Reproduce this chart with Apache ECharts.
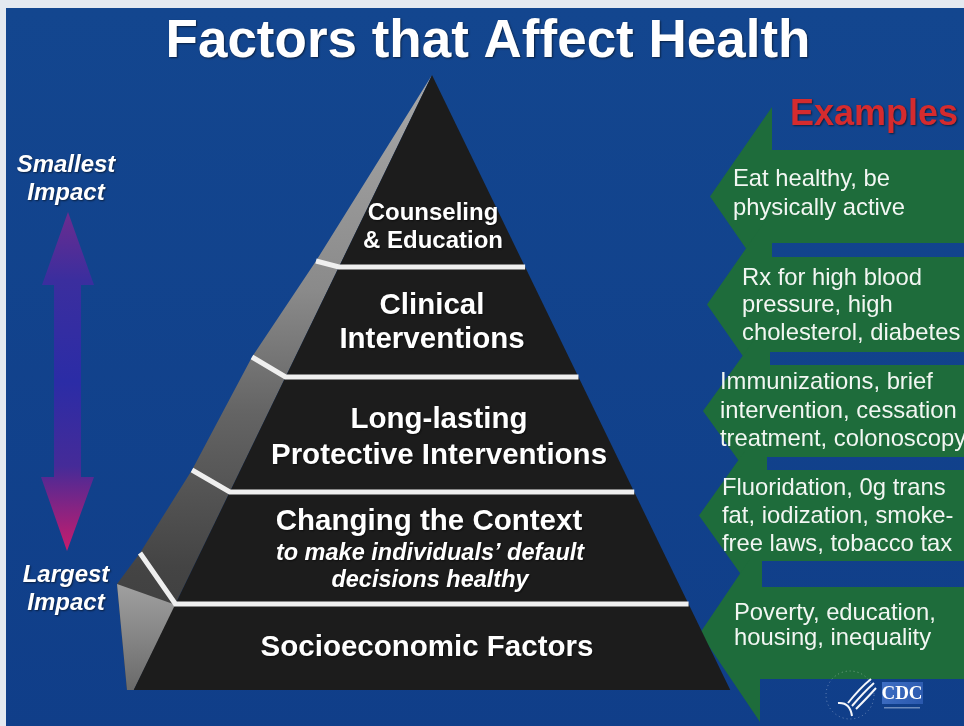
<!DOCTYPE html>
<html>
<head>
<meta charset="utf-8">
<script src="https://cdn.jsdelivr.net/npm/echarts@6/dist/echarts.min.js"></script>
<style>
  html, body { margin: 0; padding: 0; background: #e4e9f0; }
  #chart { width: 964px; height: 726px; }
</style>
</head>
<body>
<div id="chart"></div>
<script>
  // content
  const title = 'Factors that Affect Health'
  const tierNames = [
    'Counseling\n& Education',
    'Clinical\nInterventions',
    'Long-lasting\nProtective Interventions',
    'Changing the Context',
    'Socioeconomic Factors'
  ]
  const tierNotes = ['', '', '', 'to make individuals\u2019 default\ndecisions healthy', '']
  const examplesTitle = 'Examples'
  const examples = [
    'Eat healthy, be\nphysically active',
    'Rx for high blood\npressure, high\ncholesterol, diabetes',
    'Immunizations, brief\nintervention, cessation\ntreatment, colonoscopy',
    'Fluoridation, 0g trans\nfat, iodization, smoke-\nfree laws, tobacco tax',
    'Poverty, education,\nhousing, inequality'
  ]
  const impactLabels = ['Smallest\nImpact', 'Largest\nImpact']

  // layout
  const FONT = '"Liberation Sans", Arial, sans-serif'
  const apex = [432, 75]
  const baseY = 690
  const k = 0.485
  const sepY = [267, 377, 492, 604]
  const sidePts = [[316, 261], [252, 357], [192, 470], [140, 553]]
  const tierText = [
    { x: 433, y: 227, size: 24, lh: 28 },
    { x: 432, y: 323, size: 29.5, lh: 34 },
    { x: 439, y: 438, size: 29.5, lh: 36 },
    { x: 429, y: 522, size: 29.5, lh: 30 },
    { x: 427, y: 648, size: 29.5, lh: 30 }
  ]
  const bands = [
    { top: 150, bot: 243, tip: 710, head: 772, tx: 733, lh: 29, dy: -3 },
    { top: 257, bot: 352, tip: 707, head: 770, tx: 742, lh: 27.5, dy: 1 },
    { top: 365, bot: 457, tip: 703, head: 767, tx: 720, lh: 28.5, dy: 0 },
    { top: 470, bot: 561, tip: 699, head: 762, tx: 722, lh: 28, dy: 1 },
    { top: 587, bot: 679, tip: 700, head: 760, tx: 734, lh: 25.5, dy: -7 }
  ]

  const leftX = y => apex[0] - k * (y - apex[1])
  const rightX = y => apex[0] + k * (y - apex[1])
  const shadow = { textShadowColor: 'rgba(0,0,0,0.55)', textShadowBlur: 2, textShadowOffsetX: 1, textShadowOffsetY: 1 }

  const els = []

  // background
  els.push({
    type: 'rect', shape: { x: 6, y: 8, width: 970, height: 730 },
    style: { fill: new echarts.graphic.LinearGradient(0, 0, 0, 1, [
      { offset: 0, color: '#13468f' }, { offset: 1, color: '#103e89' }
    ]) }
  })

  els.push({
    type: 'text', x: 488, y: 42,
    style: Object.assign({ text: title, font: 'bold 53px ' + FONT, fill: '#ffffff', align: 'center', verticalAlign: 'middle' }, shadow)
  })

  // green example arrows
  bands.forEach(b => {
    const c = (b.top + b.bot) / 2
    const ext = 43
    els.push({
      type: 'polygon',
      shape: { points: [[b.tip, c], [b.head, b.bot + ext], [b.head, b.bot], [975, b.bot], [975, b.top], [b.head, b.top], [b.head, b.top - ext]] },
      style: { fill: '#1e6c3b' }
    })
  })
  bands.forEach((b, i) => {
    els.push({
      type: 'text', x: b.tx, y: (b.top + b.bot) / 2 + b.dy,
      style: { text: examples[i], font: '23.8px ' + FONT, fill: '#f2f6f2', align: 'left', verticalAlign: 'middle', lineHeight: b.lh }
    })
  })
  els.push({
    type: 'text', x: 790, y: 115,
    style: Object.assign({ text: examplesTitle, font: 'bold 36px ' + FONT, fill: '#d52b2e', align: 'left', verticalAlign: 'middle' }, shadow)
  })

  // double arrow on the left
  els.push({
    type: 'polygon',
    shape: { points: [[68, 212], [94, 285], [81, 285], [81, 477], [94, 477], [67, 551], [41, 477], [54, 477], [54, 285], [42, 285]] },
    style: { fill: new echarts.graphic.LinearGradient(0, 0, 0, 1, [
      { offset: 0, color: '#6b2c8f' }, { offset: 0.2, color: '#3b2e9e' },
      { offset: 0.5, color: '#2b2ca6' }, { offset: 0.75, color: '#452b98' },
      { offset: 1, color: '#c81c6c' }
    ]) }
  })
  els.push({
    type: 'text', x: 66, y: 179,
    style: Object.assign({ text: impactLabels[0], font: 'italic bold 24px ' + FONT, fill: '#ffffff', align: 'center', verticalAlign: 'middle', lineHeight: 28 }, shadow)
  })
  els.push({
    type: 'text', x: 66, y: 589,
    style: Object.assign({ text: impactLabels[1], font: 'italic bold 24px ' + FONT, fill: '#ffffff', align: 'center', verticalAlign: 'middle', lineHeight: 28 }, shadow)
  })

  // pyramid side face
  els.push({
    type: 'polygon',
    shape: { points: [apex].concat(sidePts, [[117, 584], [127, baseY], [leftX(baseY), baseY]]) },
    style: { fill: new echarts.graphic.LinearGradient(0, 0, 0, 1, [
      { offset: 0, color: '#a8a8a8' }, { offset: 0.35, color: '#8a8a8a' },
      { offset: 0.55, color: '#646464' }, { offset: 0.8, color: '#444444' },
      { offset: 1, color: '#3a3a3a' }
    ]) }
  })
  els.push({
    type: 'polygon',
    shape: { points: [[117, 584], [176, 605], [leftX(baseY), baseY], [127, baseY]] },
    style: { fill: new echarts.graphic.LinearGradient(0, 0, 0, 1, [
      { offset: 0, color: '#a0a0a0' }, { offset: 1, color: '#6a6a6a' }
    ]) }
  })
  // front face
  els.push({
    type: 'polygon',
    shape: { points: [apex, [rightX(baseY), baseY], [leftX(baseY), baseY]] },
    style: { fill: '#1c1c1c' }
  })
  sepY.forEach((y, i) => {
    els.push({
      type: 'polyline',
      shape: { points: [sidePts[i], [leftX(y), y], [rightX(y), y]] },
      style: { stroke: '#efefef', lineWidth: 5, fill: null }
    })
  })

  tierNames.forEach((name, i) => {
    const t = tierText[i]
    els.push({
      type: 'text', x: t.x, y: t.y,
      style: Object.assign({ text: name, font: 'bold ' + t.size + 'px ' + FONT, fill: '#ffffff', align: 'center', verticalAlign: 'middle', lineHeight: t.lh }, shadow)
    })
    if (tierNotes[i]) {
      els.push({
        type: 'text', x: 430, y: 567,
        style: Object.assign({ text: tierNotes[i], font: 'italic bold 23.5px ' + FONT, fill: '#ffffff', align: 'center', verticalAlign: 'middle', lineHeight: 27 }, shadow)
      })
    }
  })

  // CDC mark
  els.push({
    type: 'circle', shape: { cx: 850, cy: 695, r: 24 },
    style: { fill: null, stroke: 'rgba(255,255,255,0.35)', lineWidth: 1, lineDash: [1, 3] }
  })
  const swoosh = [
    [871, 679, 860, 688, 848, 703],
    [874, 683, 864, 692, 852, 706],
    [876, 688, 868, 697, 856, 709]
  ]
  swoosh.forEach(s => {
    els.push({
      type: 'bezierCurve',
      shape: { x1: s[0], y1: s[1], cpx1: s[2], cpy1: s[3], x2: s[4], y2: s[5] },
      style: { fill: null, stroke: '#f4f6fa', lineWidth: 2 }
    })
  })
  els.push({
    type: 'bezierCurve',
    shape: { x1: 838, y1: 703, cpx1: 850, cpy1: 702, x2: 852, y2: 716 },
    style: { fill: null, stroke: '#f4f6fa', lineWidth: 2 }
  })
  els.push({
    type: 'rect', shape: { x: 882, y: 682, width: 41, height: 22 },
    style: { fill: new echarts.graphic.LinearGradient(0, 0, 1, 1, [
      { offset: 0, color: '#3f6fc4' }, { offset: 1, color: '#2a58ad' }
    ]) }
  })
  els.push({
    type: 'text', x: 902, y: 694,
    style: { text: 'CDC', font: 'bold 19px "Liberation Serif", "DejaVu Serif", serif', fill: '#ffffff', align: 'center', verticalAlign: 'middle' }
  })
  els.push({
    type: 'rect', shape: { x: 884, y: 707, width: 36, height: 1.5 },
    style: { fill: 'rgba(200,215,240,0.5)' }
  })

  const chart = echarts.init(document.getElementById('chart'))
  chart.setOption({
    animation: false,
    graphic: { elements: els }
  })
</script>
</body>
</html>
